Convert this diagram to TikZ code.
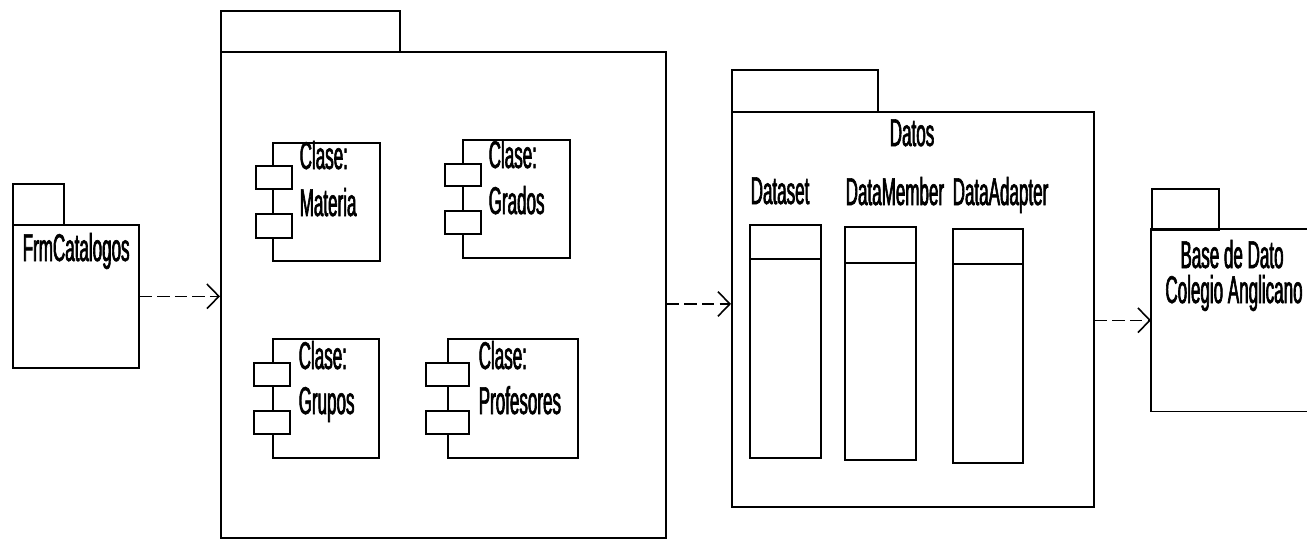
\documentclass[tikz,border=0pt]{standalone}
\usepackage{fontspec}
\newfontfamily\nf[FakeStretch=0.44,FakeBold=1.6]{Liberation Sans}
\usetikzlibrary{arrows.meta}
\begin{document}
\begin{tikzpicture}[x=0.01cm,y=-0.01cm,
  box/.style={draw=black,line width=0.45pt,fill=white,inner sep=0pt,anchor=north west},
  port/.style={box},
  lbl/.style={inner sep=0pt,anchor=base west,font=\nf\fontsize{11}{13}\selectfont},
  clbl/.style={inner sep=0pt,anchor=base,font=\nf\fontsize{11}{13}\selectfont},
  dep/.style={draw=black,line width=0.35pt,dash pattern=on 3.5pt off 1.5pt,-{Straight Barb[length=3.4pt,width=7pt,line width=0.45pt]}}]
\fill[white] (0,0) rectangle (1307,538);
\useasboundingbox (0,0) rectangle (1307,538);
% FrmCatalogos package
\node[box,minimum width=0.51cm,minimum height=0.41cm] (frmtab) at (12,183) {};
\node[box,minimum width=1.26cm,minimum height=1.43cm] (frmbody) at (12,224) {};
\node[lbl] (frmtxt) at (22,261) {FrmCatalogos};
% big package
\node[box,minimum width=1.79cm,minimum height=0.41cm] (bigtab) at (220,10) {};
\node[box,minimum width=4.45cm,minimum height=4.86cm] (bigbody) at (220,51) {};
% components
\node[box,minimum width=1.07cm,minimum height=1.18cm] (mat) at (272,142) {};
\node[port,minimum width=0.36cm,minimum height=0.23cm] (matp1) at (255,165) {};
\node[port,minimum width=0.36cm,minimum height=0.24cm] (matp2) at (255,213) {};
\node[lbl] (matt1) at (299,169) {Clase:};
\node[lbl] (matt2) at (299,216) {Materia};
\node[box,minimum width=1.07cm,minimum height=1.18cm] (gra) at (462,139) {};
\node[port,minimum width=0.36cm,minimum height=0.22cm] (grap1) at (444,163) {};
\node[port,minimum width=0.36cm,minimum height=0.23cm] (grap2) at (444,210) {};
\node[lbl] (grat1) at (488,168) {Clase:};
\node[lbl] (grat2) at (488,214) {Grados};
\node[box,minimum width=1.06cm,minimum height=1.19cm] (gru) at (272,338) {};
\node[port,minimum width=0.36cm,minimum height=0.23cm] (grup1) at (253,362) {};
\node[port,minimum width=0.36cm,minimum height=0.23cm] (grup2) at (253,410) {};
\node[lbl] (grut1) at (298,369) {Clase:};
\node[lbl] (grut2) at (298,414) {Grupos};
\node[box,minimum width=1.30cm,minimum height=1.19cm] (pro) at (447,338) {};
\node[port,minimum width=0.43cm,minimum height=0.23cm] (prop1) at (425,362) {};
\node[port,minimum width=0.43cm,minimum height=0.23cm] (prop2) at (425,410) {};
\node[lbl] (prot1) at (478,369) {Clase:};
\node[lbl] (prot2) at (478,414) {Profesores};
% Datos package
\node[box,minimum width=1.46cm,minimum height=0.42cm] (dattab) at (731,69) {};
\node[box,minimum width=3.62cm,minimum height=3.95cm] (datbody) at (731,111) {};
\node[clbl] (dattxt) at (912,146) {Datos};
\node[lbl] (dst) at (750,204) {Dataset};
\node[lbl] (dmt) at (845,205) {DataMember};
\node[lbl] (dat) at (952,205) {DataAdapter};
\node[box,minimum width=0.71cm,minimum height=0.34cm] (dsh) at (749,224) {};
\node[box,minimum width=0.71cm,minimum height=1.99cm] (dsb) at (749,258) {};
\node[box,minimum width=0.71cm,minimum height=0.36cm] (dmh) at (844,226) {};
\node[box,minimum width=0.71cm,minimum height=1.97cm] (dmb) at (844,262) {};
\node[box,minimum width=0.70cm,minimum height=0.35cm] (dah) at (952,228) {};
\node[box,minimum width=0.70cm,minimum height=1.99cm] (dab) at (952,263) {};
% Base de Dato package (runs past the right edge)
\node[box,minimum width=0.67cm,minimum height=0.41cm] (bastab) at (1151,188) {};
\node[inner sep=0pt,anchor=north west,minimum width=1.56cm,minimum height=1.81cm] (basbody) at (1151,229) {};
\draw[line width=0.45pt] (basbody.north east) -- (basbody.north west) -- (basbody.south west) -- (basbody.south east);
\node[clbl] (bast1) at (1232,268) {Base de Dato};
\node[clbl] (bast2) at (1234,303) {Colegio Anglicano};
% dependencies
\draw[dep] (frmbody.east) -- (frmbody.east -| bigbody.west);
\draw[dep] ([yshift=-0.09cm]bigbody.east) -- ([yshift=-0.09cm]bigbody.east -| datbody.west);
\draw[dep] (basbody.west -| datbody.east) -- (basbody.west);
\end{tikzpicture}
\end{document}
